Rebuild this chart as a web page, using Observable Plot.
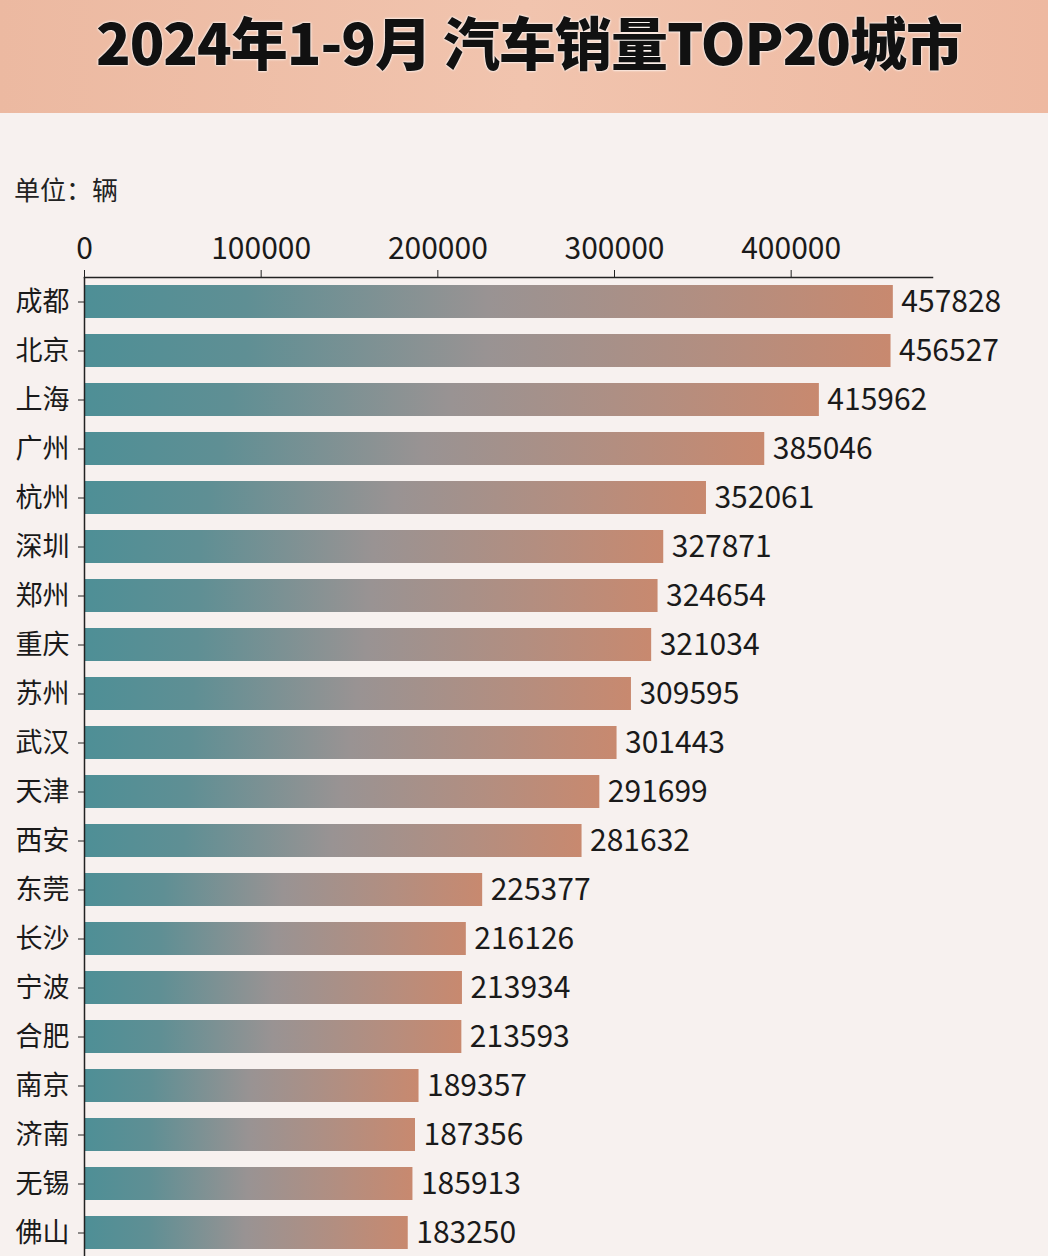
<!DOCTYPE html>
<html>
<head>
<meta charset="utf-8">
<script src="https://cdn.jsdelivr.net/npm/d3@7"></script>
<script src="https://cdn.jsdelivr.net/npm/@observablehq/plot@0.6"></script>
<style>
  html, body { margin: 0; padding: 0; width: 1048px; height: 1256px; overflow: hidden; background: #f7f1ef; font-family: "Noto Sans CJK SC", "Noto Sans", sans-serif; }
  #title { height: 113px; background: linear-gradient(90deg, #ecb9a1 0%, #f1c4ae 50%, #eeb9a1 100%); display: flex; align-items: flex-start; justify-content: center; }
  #title h1 { margin: -1px 0 0 10px; font-size: 57px; font-weight: 900; color: #111; letter-spacing: -1px; text-shadow: 0 0 3px #fff, 0 0 2px #fff; }
  #unit { position: absolute; left: 14px; top: 170px; font-size: 26px; color: #222; }
  #chart { position: absolute; left: 0; top: 113px; }
</style>
</head>
<body>
<div id="title"><h1>2024年1-9月 汽车销量TOP20城市</h1></div>
<div id="unit">单位：辆</div>
<div id="chart"></div>
<script>
const cities = ["成都","北京","上海","广州","杭州","深圳","郑州","重庆","苏州","武汉","天津","西安","东莞","长沙","宁波","合肥","南京","济南","无锡","佛山"];
const sales = [457828,456527,415962,385046,352061,327871,324654,321034,309595,301443,291699,281632,225377,216126,213934,213593,189357,187356,185913,183250];
const xTicks = [0,100000,200000,300000,400000];

const data = cities.map((c, i) => ({city: c, value: sales[i]}));

function gradientDefs() {
  const ns = "http://www.w3.org/2000/svg";
  const defs = document.createElementNS(ns, "defs");
  const lg = document.createElementNS(ns, "linearGradient");
  lg.setAttribute("id", "barGrad");
  lg.setAttribute("x1", "0"); lg.setAttribute("x2", "1");
  lg.setAttribute("y1", "0"); lg.setAttribute("y2", "0");
  [["0%", "#4e8f96"], ["20%", "#5f8f94"], ["50%", "#999393"], ["78%", "#b38e80"], ["100%", "#c8896f"]].forEach(([o, c]) => {
    const s = document.createElementNS(ns, "stop");
    s.setAttribute("offset", o); s.setAttribute("stop-color", c);
    lg.appendChild(s);
  });
  defs.appendChild(lg);
  return defs;
}

const chart = Plot.plot({
  width: 1048,
  height: 1144,
  marginTop: 164,
  marginLeft: 84,
  marginRight: 116,
  marginBottom: 0,
  style: {background: "transparent", fontFamily: "'Noto Sans CJK SC', 'Noto Sans', sans-serif", color: "#1a1a1a"},
  x: {domain: [0, 480000]},
  y: {domain: cities, paddingInner: 0.33, paddingOuter: 0.13},
  marks: [
    gradientDefs,
    Plot.barX(data, {y: "city", x: "value", fill: "url(#barGrad)"}),
    Plot.text(data, {y: "city", x: "value", text: d => String(d.value), textAnchor: "start", dx: 8, fontSize: 30, fill: "#1a1a1a"}),
    Plot.axisX({anchor: "top", ticks: xTicks, tickFormat: () => "", tickSize: 8, label: null, stroke: "#222"}),
    Plot.axisX({anchor: "top", ticks: xTicks, tickFormat: d => String(d), tickSize: 0, tickPadding: 5, dy: -14, fontSize: 30, label: null}),
    Plot.axisY({anchor: "left", tickSize: 6, tickPadding: 9, fontSize: 27, label: null, stroke: "#222"}),
    Plot.frame({anchor: "top", stroke: "#222", strokeWidth: 1.5}),
    Plot.ruleX([0], {stroke: "#222", strokeWidth: 1.5})
  ]
});
document.getElementById("chart").appendChild(chart);
</script>
</body>
</html>
